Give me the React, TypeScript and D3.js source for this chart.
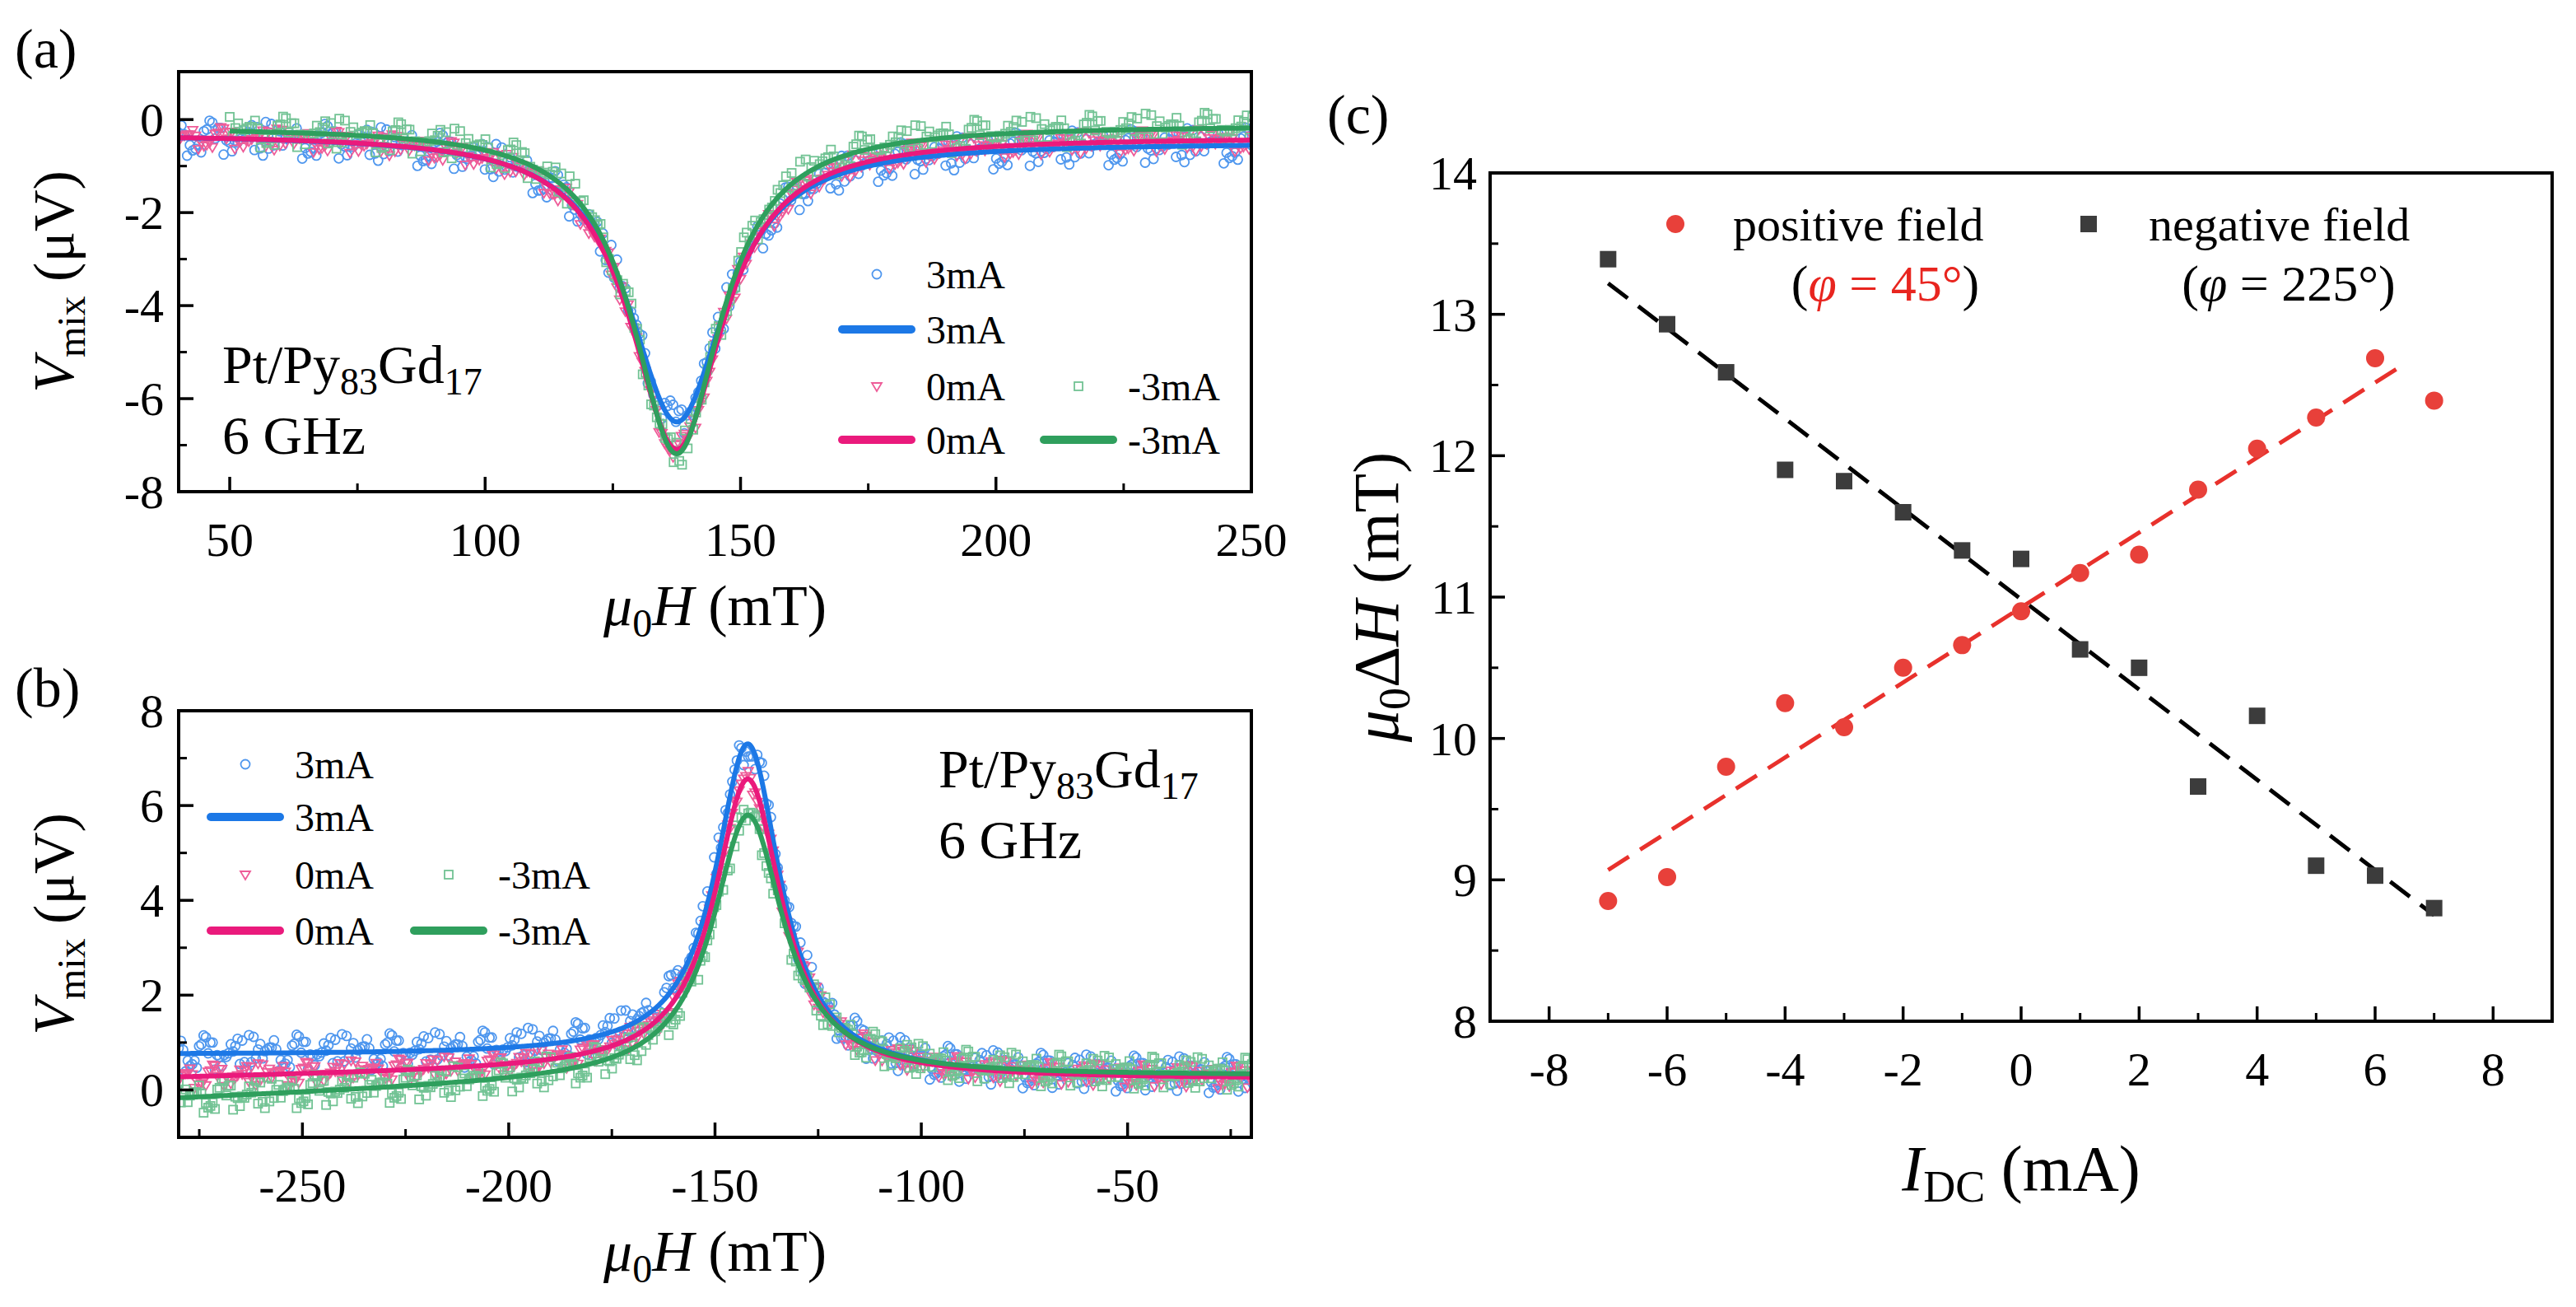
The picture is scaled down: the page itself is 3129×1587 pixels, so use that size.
import React from "react";
import * as d3 from "d3";

// ---- panel (c) data: linewidth vs DC current ----
const currents = [-7, -6, -5, -4, -3, -2, -1, 0, 1, 2, 3, 4, 5, 6, 7];
const positiveField = [8.85, 9.02, 9.8, 10.25, 10.08, 10.5, 10.66, 10.9, 11.17, 11.3, 11.76, 12.05, 12.27, 12.69, 12.39];
const negativeField = [13.39, 12.93, 12.59, 11.9, 11.82, 11.6, 11.33, 11.27, 10.63, 10.5, 9.66, 10.16, 9.1, 9.03, 8.8];
const positiveFit = [[-7, 9.07], [6.5, 12.65]];
const negativeFit = [[-7, 13.22], [7, 8.75]];

// ---- panels (a),(b): fitted line-shape parameters ----
// A amplitude, h0 resonance, w half width, bl/br baseline left/right, s step width, slope left tail
const fitsA = [
  { name: "3mA", A: -6.1, h0: 137.5, w: 11.5, bl: -0.3, br: -0.5, s: 14, slope: 0, from: 40 },
  { name: "0mA", A: -6.75, h0: 137.5, w: 11, bl: -0.3, br: -0.38, s: 14, slope: 0, from: 40 },
  { name: "-3mA", A: -7.05, h0: 137.5, w: 10.5, bl: -0.15, br: -0.12, s: 14, slope: 0, from: 50 },
];
const fitsB = [
  { name: "3mA", A: 6.8, h0: -142, w: 9.6, bl: 0.75, br: 0.25, s: 12, slope: 0, from: -280 },
  { name: "0mA", A: 6.2, h0: -142, w: 10, bl: 0.5, br: 0.22, s: 12, slope: 0.0018, from: -280 },
  { name: "-3mA", A: 5.5, h0: -142, w: 10.5, bl: 0.3, br: 0.3, s: 12, slope: 0.0036, from: -280 },
];
// measured scatter residuals (relative), cycled along the sweep
const residuals = [0.3, -0.6, 0.9, -0.2, 0.1, -0.9, 0.5, 0.7, -0.4, 0.0, -0.7, 0.4, 1.0, -0.3, 0.2, -0.8, 0.6, -0.1, 0.8, -0.5, 0.1, -1.0, 0.4, 0.6, -0.2, -0.6, 0.9, 0.2, -0.4, 0.5, -0.9, 0.0, 0.7, -0.3, 0.3, -0.7, 1.0, -0.1, 0.5, -0.5, 0.2];
const noiseAmp = [0.38, 0.24, 0.34];

const colorsPoint = ["#4f97ee", "#ee5c98", "#72c394"];
const colorsLine = ["#1c78e6", "#ea1a7c", "#2f9f5d"];

const font = "Liberation Serif, Times New Roman, Times, DejaVu Serif, serif";

function shape(h: number, p: any) {
  const d = h - p.h0;
  return (
    (p.A * p.w * p.w) / (d * d + p.w * p.w) +
    p.br + (p.bl - p.br) * (0.5 - Math.atan(d / p.s) / Math.PI) +
    p.slope * Math.min(d, 0)
  );
}

function Marker({ k, x, y }: { k: number; x: number; y: number }) {
  const c = colorsPoint[k];
  if (k === 0) return <circle cx={x} cy={y} r={5.5} fill="none" stroke={c} strokeWidth={1.8} />;
  if (k === 1)
    return <path d={`M${x - 6},${y - 4}L${x + 6},${y - 4}L${x},${y + 6}Z`} fill="none" stroke={c} strokeWidth={1.8} />;
  return <rect x={x - 5} y={y - 5} width={10} height={10} fill="none" stroke={c} strokeWidth={1.8} />;
}

function SpectrumPanel(props: any) {
  const { id, left, top, width, height, xDomain, yDomain, xTicks, xMinor, yTicks, yMinor, fits, legend, note } = props;
  const x = d3.scaleLinear().domain(xDomain).range([left, left + width]);
  const y = d3.scaleLinear().domain(yDomain).range([top + height, top]);
  const bottom = top + height;
  return (
    <g>
      <defs>
        <clipPath id={id}>
          <rect x={left} y={top} width={width} height={height} />
        </clipPath>
      </defs>
      <g clipPath={`url(#${id})`}>
        {fits.map((p: any, k: number) => {
          const hs = d3.range(p.from, xDomain[1] + 0.5, 0.55);
          return (
            <g key={"s" + k}>
              {hs.map((h, i) => (
                <Marker key={i} k={k} x={x(h)} y={y(shape(h, p) + residuals[(i * 7 + k * 13) % residuals.length] * noiseAmp[k])} />
              ))}
            </g>
          );
        })}
        {fits.map((p: any, k: number) => {
          const hs = d3.range(p.from, xDomain[1] + 0.2, 0.25);
          const path = d3.line<number>().x((h) => x(h)).y((h) => y(shape(h, p)))(hs);
          return <path key={"l" + k} d={path || ""} fill="none" stroke={colorsLine[k]} strokeWidth={6} />;
        })}
      </g>
      <rect x={left} y={top} width={width} height={height} fill="none" stroke="#000" strokeWidth={4} />
      {xTicks.map((t: number) => (
        <g key={"xt" + t}>
          <line x1={x(t)} x2={x(t)} y1={bottom} y2={bottom - 18} stroke="#000" strokeWidth={3.5} />
          <text x={x(t)} y={bottom + 78} textAnchor="middle" fontSize={58}>{t}</text>
        </g>
      ))}
      {xMinor.map((t: number) => (
        <line key={"xm" + t} x1={x(t)} x2={x(t)} y1={bottom} y2={bottom - 10} stroke="#000" strokeWidth={3} />
      ))}
      {yTicks.map((t: number) => (
        <g key={"yt" + t}>
          <line x1={left} x2={left + 18} y1={y(t)} y2={y(t)} stroke="#000" strokeWidth={3.5} />
          <text x={left - 18} y={y(t) + 20} textAnchor="end" fontSize={58}>{t}</text>
        </g>
      ))}
      {yMinor.map((t: number) => (
        <line key={"ym" + t} x1={left} x2={left + 10} y1={y(t)} y2={y(t)} stroke="#000" strokeWidth={3} />
      ))}
      <text x={left + width / 2} y={bottom + 162} textAnchor="middle" fontSize={70}>
        <tspan fontStyle="italic">μ</tspan>
        <tspan fontSize={48} dy={14}>0</tspan>
        <tspan fontStyle="italic" dy={-14}>H</tspan>
        <tspan> (mT)</tspan>
      </text>
      <text transform={`translate(${left - 128},${top + height / 2}) rotate(-90)`} textAnchor="middle" fontSize={70}>
        <tspan fontStyle="italic">V</tspan>
        <tspan fontSize={48} dy={14}>mix</tspan>
        <tspan dy={-14}> (μV)</tspan>
      </text>
      {legend.map((e: any, i: number) => (
        <g key={"lg" + i}>
          {e.line ? (
            <line x1={e.x - 42} x2={e.x + 42} y1={e.y} y2={e.y} stroke={colorsLine[e.k]} strokeWidth={10} strokeLinecap="round" />
          ) : (
            <Marker k={e.k} x={e.x} y={e.y} />
          )}
          <text x={e.x + 60} y={e.y + 17} fontSize={48}>{e.label}</text>
        </g>
      ))}
      <text x={note.x} y={note.y} fontSize={66}>
        Pt/Py<tspan fontSize={46} dy={14}>83</tspan><tspan dy={-14}>Gd</tspan><tspan fontSize={46} dy={14}>17</tspan>
      </text>
      <text x={note.x} y={note.y + 86} fontSize={66}>6 GHz</text>
    </g>
  );
}

function LinewidthPanel() {
  const left = 1810, top = 210, width = 1290, height = 1030;
  const x = d3.scaleLinear().domain([-9, 9]).range([left, left + width]);
  const y = d3.scaleLinear().domain([8, 14]).range([top + height, top]);
  const bottom = top + height;
  const xTicks = d3.range(-8, 9, 2);
  const xMinor = d3.range(-7, 8, 2);
  const yTicks = d3.range(8, 15, 1);
  const yMinor = d3.range(8.5, 14, 1);
  const fitLine = d3.line<number[]>().x((d) => x(d[0])).y((d) => y(d[1]));
  return (
    <g>
      <path d={fitLine(positiveFit) || ""} stroke="#e8312c" strokeWidth={5} strokeDasharray="30 16" fill="none" />
      <path d={fitLine(negativeFit) || ""} stroke="#000" strokeWidth={5} strokeDasharray="30 16" fill="none" />
      {currents.map((c, i) => (
        <rect key={"n" + i} x={x(c) - 10} y={y(negativeField[i]) - 10} width={20} height={20} fill="#3c3c3c" />
      ))}
      {currents.map((c, i) => (
        <circle key={"p" + i} cx={x(c)} cy={y(positiveField[i])} r={11} fill="#e8403a" />
      ))}
      <rect x={left} y={top} width={width} height={height} fill="none" stroke="#000" strokeWidth={4} />
      {xTicks.map((t) => (
        <g key={"xt" + t}>
          <line x1={x(t)} x2={x(t)} y1={bottom} y2={bottom - 18} stroke="#000" strokeWidth={3.5} />
          <text x={x(t)} y={bottom + 78} textAnchor="middle" fontSize={58}>{t}</text>
        </g>
      ))}
      {xMinor.map((t) => (
        <line key={"xm" + t} x1={x(t)} x2={x(t)} y1={bottom} y2={bottom - 10} stroke="#000" strokeWidth={3} />
      ))}
      {yTicks.map((t) => (
        <g key={"yt" + t}>
          <line x1={left} x2={left + 18} y1={y(t)} y2={y(t)} stroke="#000" strokeWidth={3.5} />
          <text x={left - 16} y={y(t) + 20} textAnchor="end" fontSize={58}>{t}</text>
        </g>
      ))}
      {yMinor.map((t) => (
        <line key={"ym" + t} x1={left} x2={left + 10} y1={y(t)} y2={y(t)} stroke="#000" strokeWidth={3} />
      ))}
      <text x={left + width / 2} y={bottom + 205} textAnchor="middle" fontSize={78}>
        <tspan fontStyle="italic">I</tspan>
        <tspan fontSize={54} dy={14}>DC</tspan>
        <tspan dy={-14}> (mA)</tspan>
      </text>
      <text transform={`translate(${left - 112},${top + height / 2}) rotate(-90)`} textAnchor="middle" fontSize={78}>
        <tspan fontStyle="italic">μ</tspan>
        <tspan fontSize={54} dy={14}>0</tspan>
        <tspan dy={-14}>Δ</tspan>
        <tspan fontStyle="italic">H</tspan>
        <tspan> (mT)</tspan>
      </text>
      <circle cx={2035} cy={272} r={11} fill="#e8403a" />
      <text x={2105} y={292} fontSize={58}>positive field</text>
      <text x={2290} y={365} textAnchor="middle" fontSize={62} fill="#e8251f">
        <tspan fill="#000">(</tspan><tspan fontStyle="italic">φ</tspan> = 45°<tspan fill="#000">)</tspan>
      </text>
      <rect x={2527} y={262} width={20} height={20} fill="#3c3c3c" />
      <text x={2610} y={292} fontSize={58}>negative field</text>
      <text x={2780} y={365} textAnchor="middle" fontSize={62}>
        (<tspan fontStyle="italic">φ</tspan> = 225°)
      </text>
    </g>
  );
}

export default function App() {
  const legendA = [
    { k: 0, x: 1065, y: 333, label: "3mA" },
    { k: 0, x: 1065, y: 400, label: "3mA", line: true },
    { k: 1, x: 1065, y: 469, label: "0mA" },
    { k: 2, x: 1310, y: 469, label: "-3mA" },
    { k: 1, x: 1065, y: 534, label: "0mA", line: true },
    { k: 2, x: 1310, y: 534, label: "-3mA", line: true },
  ];
  const legendB = [
    { k: 0, x: 298, y: 928, label: "3mA" },
    { k: 0, x: 298, y: 992, label: "3mA", line: true },
    { k: 1, x: 298, y: 1062, label: "0mA" },
    { k: 2, x: 545, y: 1062, label: "-3mA" },
    { k: 1, x: 298, y: 1130, label: "0mA", line: true },
    { k: 2, x: 545, y: 1130, label: "-3mA", line: true },
  ];
  return (
    <svg width={3129} height={1587} fontFamily={font} style={{ position: "absolute", left: 0, top: 0, background: "#fff", fontFamily: font }}>
      <rect width={3129} height={1587} fill="#fff" />
      <text x={18} y={82} fontSize={68}>(a)</text>
      <text x={18} y={858} fontSize={68}>(b)</text>
      <text x={1612} y={162} fontSize={68}>(c)</text>
      <SpectrumPanel
        id="clipA" left={217} top={87} width={1303} height={510}
        xDomain={[40, 250]} yDomain={[-8, 1.03]}
        xTicks={[50, 100, 150, 200, 250]} xMinor={[75, 125, 175, 225]}
        yTicks={[0, -2, -4, -6, -8]} yMinor={[-1, -3, -5, -7]}
        fits={fitsA} legend={legendA} note={{ x: 270, y: 465 }}
      />
      <SpectrumPanel
        id="clipB" left={217} top={863} width={1303} height={518}
        xDomain={[-280, -20]} yDomain={[-1, 8]}
        xTicks={[-250, -200, -150, -100, -50]} xMinor={[-275, -225, -175, -125, -75, -25]}
        yTicks={[0, 2, 4, 6, 8]} yMinor={[1, 3, 5, 7]}
        fits={fitsB} legend={legendB} note={{ x: 1140, y: 956 }}
      />
      <LinewidthPanel />
    </svg>
  );
}
